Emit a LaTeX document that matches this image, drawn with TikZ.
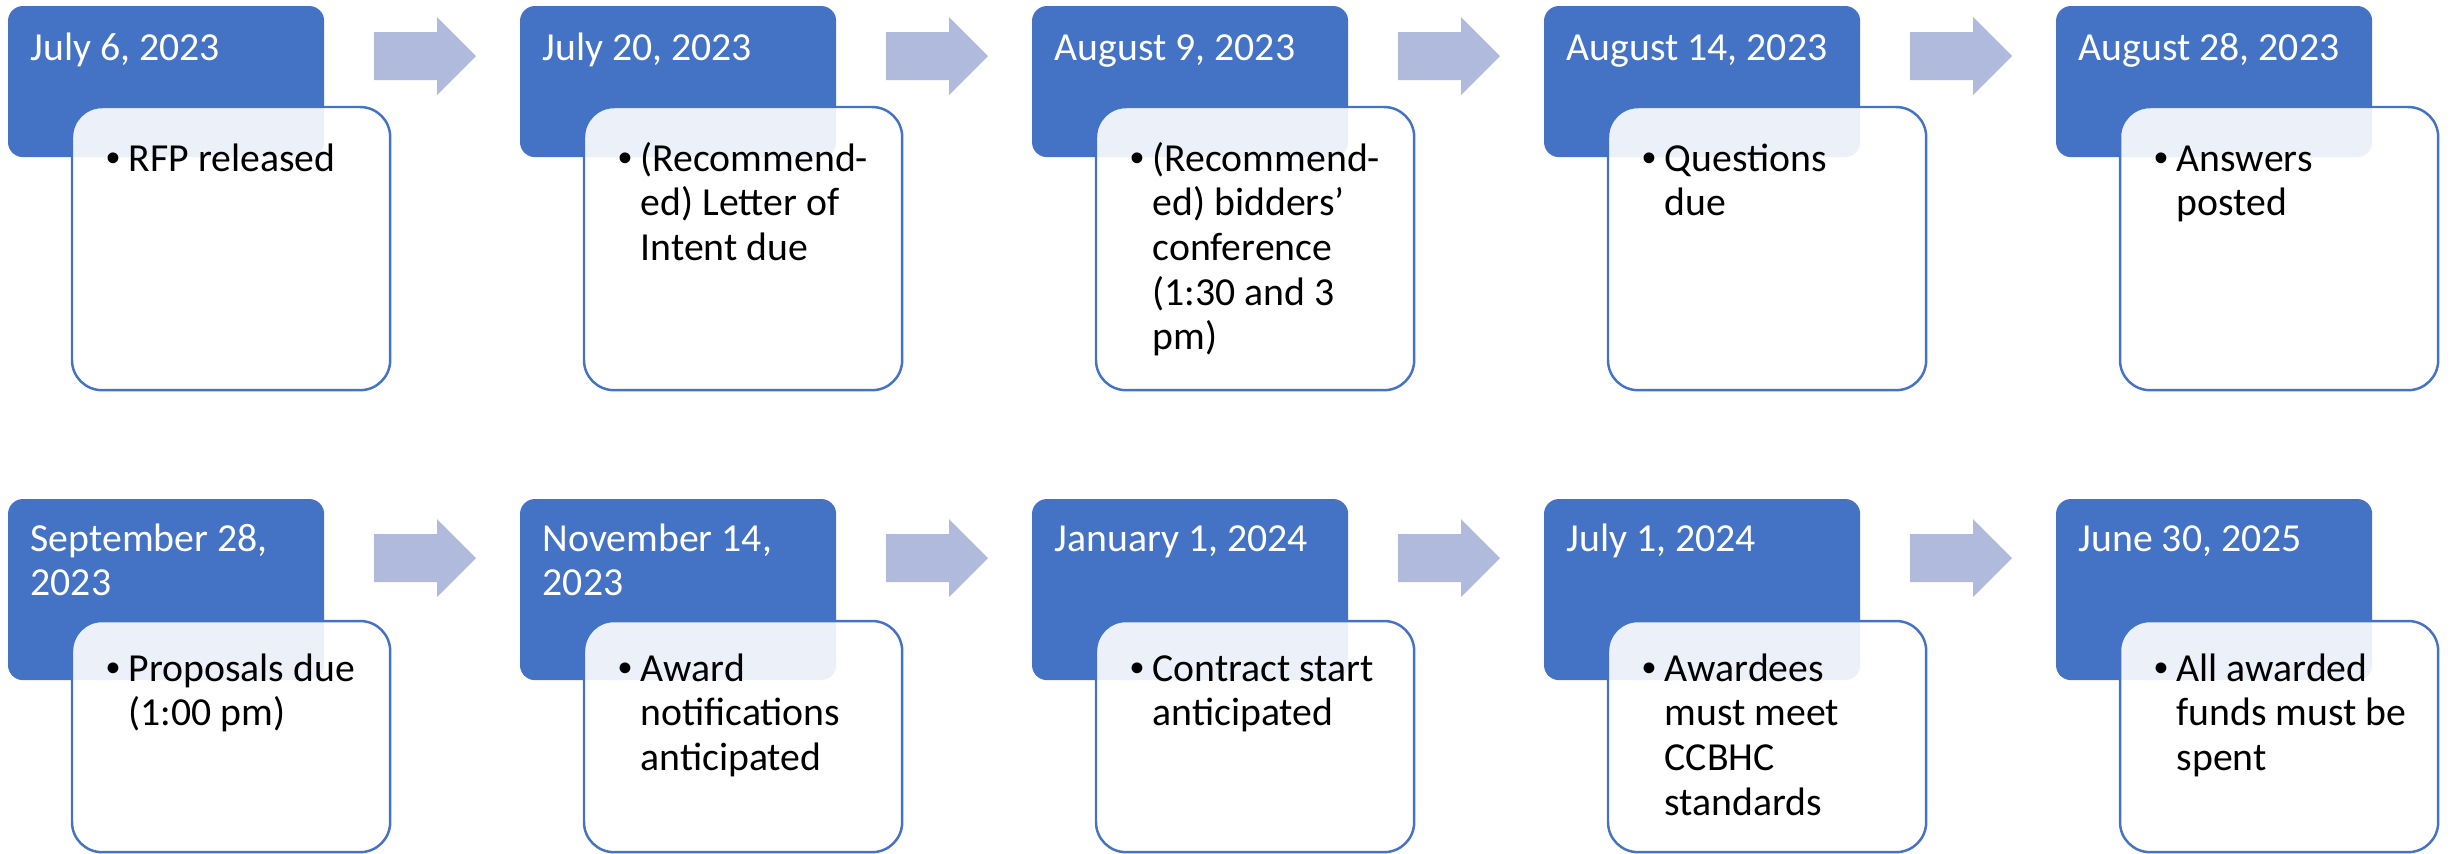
\documentclass[tikz,border=0pt]{standalone}
\usepackage{fontspec}
\setmainfont{Carlito}
\newfontfamily\bulfont{Liberation Sans}
\definecolor{dateblue}{HTML}{4472C4}
\definecolor{flowgray}{RGB}{175,186,220}
\tikzset{
  datebox/.style={fill=dateblue,rounded corners=0.15cm,anchor=north west,inner sep=0,outer sep=0,minimum width=3.16cm},
  notebox/.style={draw=dateblue,line width=0.7pt,fill=white,fill opacity=0.9,rounded corners=0.3cm,anchor=north west,inner sep=0,outer sep=0,minimum width=3.18cm},
  datetext/.style={anchor=base west,inner sep=0,text=white,font=\fontsize{11.3}{12.7}\selectfont},
  notetext/.style={anchor=base west,inner sep=0,font=\fontsize{11.3}{12.7}\selectfont},
  flowarrow/.style={fill=flowgray}
}
\newcommand{\lines}[1]{\begin{tabular}[t]{@{}l@{}}#1\end{tabular}}
\newcommand{\bul}{\llap{\makebox[0.22cm][l]{\bulfont •}}}

\begin{document}
\begin{tikzpicture}[x=0.01cm,y=-0.01cm]
  \useasboundingbox (0,0) rectangle (2451,853);
  % first row
  \foreach \k/\d/\t in {0/{July 6, 2023}/{RFP released},
                        1/{July 20, 2023}/{(Recommend-\\ed) Letter of\\Intent due},
                        2/{August 9, 2023}/{(Recommend-\\ed) bidders’\\conference\\(1:30 and 3\\pm)},
                        3/{August 14, 2023}/{Questions\\due},
                        4/{August 28, 2023}/{Answers\\posted}}{
    \node[datebox,minimum height=1.51cm] (d\k) at (8+512*\k,6) {};
    \node[datetext] (dt\k) at (30+512*\k,60) {\lines{\d}};
    \node[notebox,minimum height=2.83cm] (n\k) at (72+512*\k,107) {};
    \node[notetext] (nt\k) at (128+512*\k,171) {\lines{\bul\t}};
  }
  % second row
  \foreach \k/\d/\t in {0/{September 28,\\2023}/{Proposals due\\(1:00 pm)},
                        1/{November 14,\\2023}/{Award\\notifications\\anticipated},
                        2/{January 1, 2024}/{Contract start\\anticipated},
                        3/{July 1, 2024}/{Awardees\\must meet\\CCBHC\\standards},
                        4/{June 30, 2025}/{All awarded\\funds must be\\spent}}{
    \node[datebox,minimum height=1.81cm] (e\k) at (8+512*\k,499) {};
    \node[datetext] (et\k) at (30+512*\k,551) {\lines{\d}};
    \node[notebox,minimum height=2.31cm] (m\k) at (72+512*\k,621) {};
    \node[notetext] (mt\k) at (128+512*\k,681) {\lines{\bul\t}};
  }
  % arrows
  \foreach \k in {0,...,3}{
    \foreach \y in {56,558}{
      \fill[flowarrow] (374+512*\k,\y-24) -- (437+512*\k,\y-24) -- (437+512*\k,\y-39)
        -- (476+512*\k,\y) -- (437+512*\k,\y+39) -- (437+512*\k,\y+24) -- (374+512*\k,\y+24) -- cycle;
    }
  }
\end{tikzpicture}
\end{document}
